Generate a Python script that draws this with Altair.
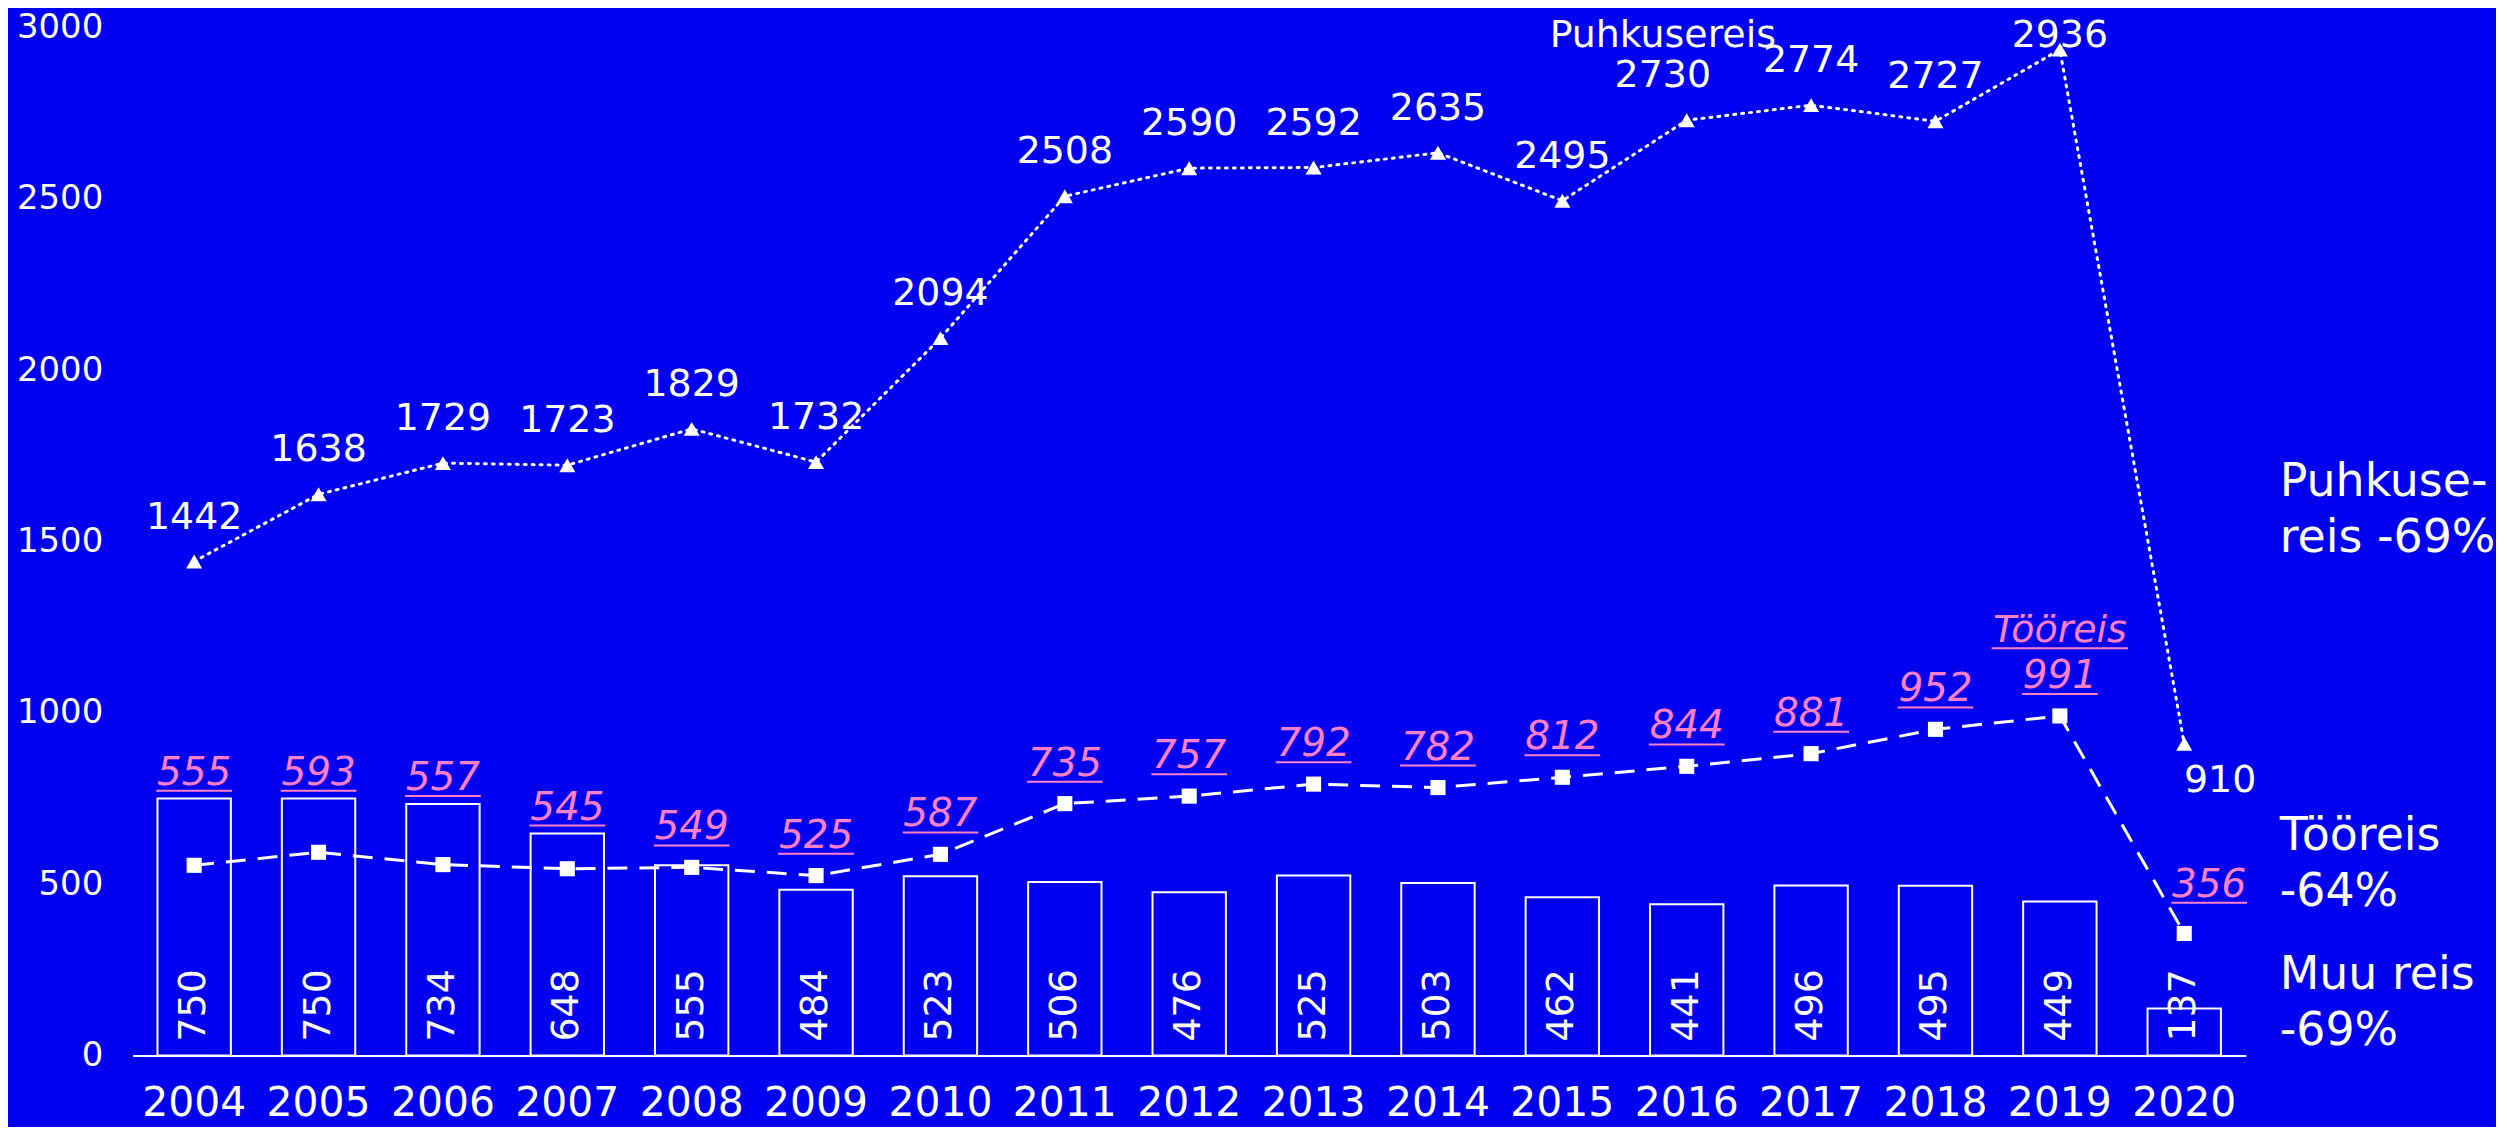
import altair as alt
import pandas as pd

years = ["2004", "2005", "2006", "2007", "2008", "2009", "2010", "2011", "2012",
         "2013", "2014", "2015", "2016", "2017", "2018", "2019", "2020"]
puhkus = [1442, 1638, 1729, 1723, 1829, 1732, 2094, 2508, 2590, 2592, 2635, 2495,
          2730, 2774, 2727, 2936, 910]
too = [555, 593, 557, 545, 549, 525, 587, 735, 757, 792, 782, 812, 844, 881, 952, 991, 356]
muu = [750, 750, 734, 648, 555, 484, 523, 506, 476, 525, 503, 462, 441, 496, 495, 449, 137]

side_labels = ["Puhkuse-\nreis -69%", "Tööreis\n-64%", "Muu reis\n-69%"]
side_pos = [1673, 640, 235]

BG = "#0000F0"
PINK = "#FF80C8"
FONT = "DejaVu Sans"
W, H = 2120, 1031

df = pd.DataFrame({"year": years, "puhkus": puhkus, "too": too, "muu": muu})
side = pd.DataFrame({"label": side_labels, "pos": side_pos})

x = alt.X("year:N", sort=None,
          scale=alt.Scale(paddingInner=0.41, paddingOuter=0.2),
          axis=alt.Axis(title=None, labelAngle=0, labelFontSize=41, labelColor="white",
                        labelFont=FONT, domainColor="white", domainWidth=2, ticks=False,
                        labelPadding=28, grid=False))
yscale = alt.Scale(domain=[0, 3000], nice=False)
yaxis = alt.Axis(title=None, values=[0, 500, 1000, 1500, 2000, 2500, 3000], format="d",
                 labelFontSize=34, labelColor="white", labelFont=FONT, domain=False,
                 ticks=False, grid=False, labelPadding=30)

base = alt.Chart(df)

bars = base.mark_bar(fill=BG, stroke="white", strokeWidth=2).encode(
    x=x, y=alt.Y("muu:Q", scale=yscale, axis=yaxis))

bar_text = base.mark_text(angle=270, align="left", baseline="middle", dx=14, fontSize=38,
                          color="white", font=FONT).encode(
    x=x, y=alt.datum(0), text="muu:Q")

p_line = base.mark_line(color="white", strokeWidth=3, strokeDash=[2, 6], strokeCap="round").encode(
    x=x, y="puhkus:Q")
p_pts = base.mark_point(shape="triangle-up", filled=True, size=260, color="white", opacity=1).encode(
    x=x, y="puhkus:Q")
pl = base.transform_calculate(
    ly="datum.year == '2020' ? datum.puhkus - 110 : min(datum.puhkus + 128, 2975)")
p_text = pl.transform_filter("datum.year != '2016' && datum.year != '2020'").mark_text(
    baseline="middle", fontSize=38, color="white", font=FONT).encode(
    x=x, y="ly:Q", text="puhkus:Q")
p_text16 = pl.transform_filter("datum.year == '2016'").mark_text(
    baseline="middle", dx=-24, fontSize=38, color="white", font=FONT).encode(
    x=x, y="ly:Q", text="puhkus:Q")
p_text20 = pl.transform_filter("datum.year == '2020'").mark_text(
    baseline="middle", dx=36, fontSize=38, color="white", font=FONT).encode(
    x=x, y="ly:Q", text="puhkus:Q")

t_line = base.mark_line(color="white", strokeWidth=3, strokeDash=[20, 12]).encode(
    x=x, y="too:Q")
t_pts = base.mark_point(shape="square", filled=True, size=230, color="white", opacity=1).encode(
    x=x, y="too:Q")

tl = base.transform_calculate(
    ly="datum.year == '2020' ? datum.too + 90 : max(datum.muu + 23, datum.too + 64)")
tl_main = tl.transform_filter("datum.year != '2020'")
tl_last = tl.transform_filter("datum.year == '2020'")
t_text = tl_main.mark_text(baseline="alphabetic", dy=-6, fontSize=39, fontStyle="italic",
                           color=PINK, font=FONT).encode(x=x, y="ly:Q", text="too:Q")
t_under = tl_main.mark_tick(size=76, thickness=2, color=PINK, opacity=1).encode(x=x, y="ly:Q")
t_text20 = tl_last.mark_text(baseline="alphabetic", dx=25, dy=-6, fontSize=39, fontStyle="italic",
                             color=PINK, font=FONT).encode(x=x, y="ly:Q", text="too:Q")
t_under20 = tl_last.mark_tick(size=76, thickness=2, color=PINK, opacity=1, xOffset=25).encode(
    x=x, y="ly:Q")

last = tl.transform_filter("datum.year == '2019'")
name_too = last.mark_text(baseline="alphabetic", dy=-6, yOffset=-46, fontSize=38,
                          fontStyle="italic", color=PINK, font=FONT, text="Tööreis").encode(
    x=x, y="ly:Q")
name_too_u = last.mark_tick(size=137, thickness=2, color=PINK, opacity=1, yOffset=-46).encode(
    x=x, y="ly:Q")

name_p = base.transform_filter("datum.year == '2016'").mark_text(
    baseline="middle", dx=-24, fontSize=38, color="white", font=FONT, text="Puhkusereis").encode(
    x=x, y=alt.datum(2975))

side_text = alt.Chart(side).mark_text(align="left", baseline="middle", fontSize=46,
                                      lineBreak="\n", lineHeight=56, color="white",
                                      font=FONT).encode(
    x=alt.value(W + 34), y=alt.Y("pos:Q", scale=yscale), text="label:N")

chart = alt.layer(bars, bar_text, p_line, p_pts, p_text, p_text16, p_text20, t_line, t_pts,
                  t_text, t_under, t_text20, t_under20,
                  name_too, name_too_u, name_p, side_text).properties(
    width=W, height=H,
    background=BG,
    padding={"left": 125, "top": 18, "right": 251, "bottom": 70},
    autosize=alt.AutoSizeParams(type="none"),
).configure(font=FONT, view=alt.ViewConfig(strokeWidth=0, stroke=BG))

chart.save("out.html", embed_options={"renderer": "svg", "actions": False})
